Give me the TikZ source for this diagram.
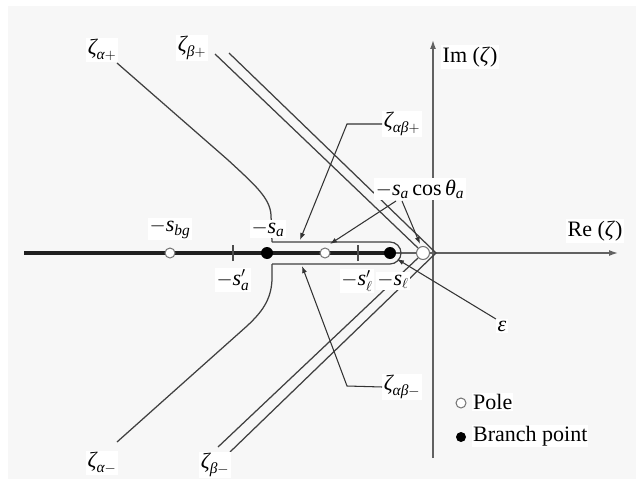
\documentclass[tikz,border=0pt]{standalone}
\usepackage{amsmath}
\usepackage{fontspec}
\setmainfont{Liberation Serif}
\usetikzlibrary{arrows.meta}
\newcommand\vi[1]{\text{\itshape #1}}
\begin{document}
\begin{tikzpicture}[x=1pt,y=-1pt,
  lbl/.style={fill=white,inner sep=1.5pt,font=\fontsize{22}{25}\selectfont},
  axis/.style={draw=black!62,line width=1.4pt},
  cont/.style={draw=black!75,line width=1.25pt},
  lead/.style={draw=black!80,line width=1.05pt,-{Latex[length=7pt,width=5pt]}},
  pole/.style={circle,draw=black!55,fill=white,line width=1pt,minimum size=10pt,inner sep=0pt},
  bp/.style={circle,fill=black,minimum size=12pt,inner sep=0pt},
  tickm/.style={draw=black!70,line width=1.2pt}]

\useasboundingbox (0,0) rectangle (642,487);
\fill[black!3] (8,6) rectangle (636,479);

% key points
\coordinate (cutL) at (24,253);
\coordinate (reEnd) at (618,253);
\coordinate (imTop) at (433,40);
\coordinate (imBot) at (433,458);
\coordinate (pbg) at (170,253);
\coordinate (tka) at (233,253);
\coordinate (bpa) at (267,253);
\coordinate (pc) at (325,253);
\coordinate (tkl) at (358,253);
\coordinate (bpl) at (390,253);
\coordinate (p0) at (423,253);

% axes
\draw[axis,-{Latex[length=9pt,width=6pt]}] (cutL) -- (reEnd);
\draw[axis,-{Latex[length=9pt,width=6pt]}] (imBot) -- (imTop);
\draw[line width=3.2pt,black!88] (cutL) -- (bpl);

% zeta_alpha contour
\coordinate (aP0) at (117,63);
\coordinate (aP1) at (228,160);
\coordinate (aP2) at (271,215);
\coordinate (hU) at (272,242);
\coordinate (hL) at (272,264);
\coordinate (aM1) at (272,280);
\coordinate (aM2) at (247,326);
\coordinate (aM3) at (117,442);
\draw[cont] (aP0) -- (aP1) .. controls (255,185) and (270,198) .. (aP2) -- (hU);
\draw[cont] (hL) -- (aM1) .. controls (271,300) and (262,312) .. (aM2) -- (aM3);

% zeta_alpha-beta hairpin
\draw[cont] (hU) -- (390,242) arc[start angle=-90,end angle=90,radius=11] -- (hL);

% zeta_beta contours
\coordinate (bO1) at (229,53);
\coordinate (bOv) at (436,253);
\coordinate (bO2) at (230,452);
\coordinate (bI1) at (215,54);
\coordinate (bIa) at (418,248);
\coordinate (bIb) at (418,258);
\coordinate (bI2) at (218,447);
\draw[cont] (bO1) -- (bOv) -- (bO2);
\draw[cont] (bI1) -- (bIa);
\draw[cont] (bI2) -- (bIb);

% ticks
\draw[tickm] ([yshift=-8pt]tka) -- ([yshift=8pt]tka);
\draw[tickm] ([yshift=-8pt]tkl) -- ([yshift=8pt]tkl);

% poles and branch points
\node[pole] (Pbg) at (pbg) {};
\node[pole] (Pc) at (pc) {};
\node[pole,minimum size=13pt] (P0) at (p0) {};
\node[bp] (Ba) at (bpa) {};
\node[bp] (Bl) at (bpl) {};

% labels
\node[lbl] (sbg) at (170,229) {$-\vi{s}_{\vi{bg}}$};
\node[lbl] (sa) at (268,229) {$-\vi{s}_{\vi{a}}$};
\node[lbl] (sap) at (233,280) {$-\vi{s}'_{\vi{a}}$};
\node[lbl] (slp) at (357,281) {$-\vi{s}'_{\ell}$};
\node[lbl] (sl) at (393,281) {$-\vi{s}_{\ell}$};
\node[lbl] (cos) at (420,189) {$-\vi{s}_{\vi{a}}\,\text{cos}\,\vi{θ}_{\vi{a}}$};
\node[lbl] (abp) at (402,124) {$\vi{ζ}_{\vi{αβ}+}$};
\node[lbl] (abm) at (402,387) {$\vi{ζ}_{\vi{αβ}-}$};
\node[lbl] (eps) at (502,326) {$\vi{ε}$};
\node[lbl] (zap) at (102,50) {$\vi{ζ}_{\vi{α}+}$};
\node[lbl] (zbp) at (192,48) {$\vi{ζ}_{\vi{β}+}$};
\node[lbl] (zam) at (102,463) {$\vi{ζ}_{\vi{α}-}$};
\node[lbl] (zbm) at (215,465) {$\vi{ζ}_{\vi{β}-}$};
\node[lbl,anchor=west] (im) at (441,57) {Im (\textit{ζ})};
\node[lbl,anchor=west] (re) at (566,231) {Re (\textit{ζ})};

% leaders
\coordinate (kU) at (347,124);
\coordinate (kL) at (347,386);
\coordinate (tU) at (300,240);
\coordinate (tL) at (302,266);
\draw[lead] (abp.west) -- (kU) -- (tU);
\draw[lead] (abm.west) -- (kL) -- (tL);
\coordinate (cA) at (396,201);
\coordinate (cB) at (402,201);
\coordinate (tc1) at (330,244);
\coordinate (tc2) at (420,244);
\draw[lead] (cA) -- (tc1);
\draw[lead] (cB) -- (tc2);
\coordinate (tE) at (397,259);
\draw[lead] (eps.north west) -- (tE);

% legend
\node[pole] (lgP) at (461,403) {};
\node[bp,minimum size=10pt] (lgB) at (461,437) {};
\node[lbl,anchor=west,inner sep=1pt] (lgPt) at (472,402) {Pole};
\node[lbl,anchor=west,inner sep=1pt] (lgBt) at (472,436) {Branch point};
\end{tikzpicture}
\end{document}
